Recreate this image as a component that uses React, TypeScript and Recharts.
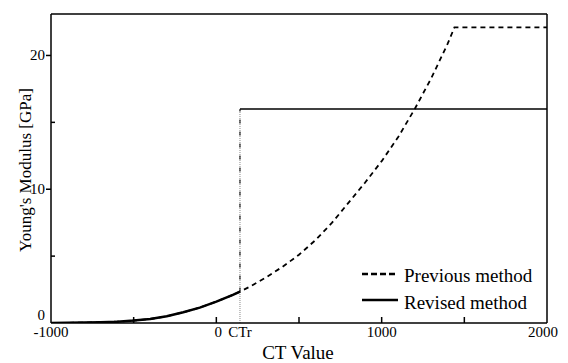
import React from 'react';
import {
  LineChart,
  Line,
  XAxis,
  YAxis,
  Legend,
  ReferenceLine,
} from 'recharts';

// CT value where the revised method switches over
const CT_R = 143;

const ctValues = [
  -1000, -900, -800, -700, -600, -500, -400, -300, -200, -100, 0, 100, CT_R, 200, 300, 400, 500,
  600, 700, 800, 900, 1000, 1100, 1200, 1300, 1400, 1440, 2000,
];
const previousValues = [
  0, 0.01, 0.03, 0.06, 0.1, 0.18, 0.3, 0.5, 0.8, 1.15, 1.6, 2.1, 2.35, 2.7, 3.4, 4.2, 5.1,
  6.2, 7.5, 9.0, 10.5, 12.1, 13.9, 16.0, 18.3, 20.9, 22.1, 22.1,
];
const revisedFlatValue = 16.0;

const xTicks = [-1000, -500, 0, CT_R, 500, 1000, 1500, 2000];
const xTickLabels: Record<number, string> = { [-1000]: '-1000', 0: '0', [CT_R]: 'CTr', 1000: '1000', 2000: '2000' };
const yTicks = [0, 5, 10, 15, 20];
const yTickLabels: Record<number, string> = { 0: '0', 10: '10', 20: '20' };

const previousData = ctValues.map((ct, i) => ({ ct, value: previousValues[i] }));
const revisedCurve = previousData.filter((p) => p.ct <= CT_R);
const revisedJump = [
  { ct: CT_R, value: revisedCurve[revisedCurve.length - 1].value },
  { ct: CT_R, value: revisedFlatValue },
];
const revisedFlat = [
  { ct: CT_R, value: revisedFlatValue },
  { ct: 2000, value: revisedFlatValue },
];

const txt = { fontFamily: 'Liberation Serif' };

const BottomTick = ({ x, y, payload }: any) => {
  const v = payload.value;
  const label = xTickLabels[v] ?? '';
  const showLine = v !== CT_R && v !== -1000 && v !== 2000;
  return (
    <g>
      {showLine && <line x1={x} y1={y} x2={x} y2={y - 6} stroke="#000" strokeWidth={1.5} />}
      <text
        x={x + (v === 0 ? 2 : v === 2000 ? -4 : 0)}
        y={y + 14}
        textAnchor="middle"
        fontSize={15}
        style={txt}
        fill="#000"
      >
        {label}
      </text>
    </g>
  );
};

const TopTick = ({ x, y, payload }: any) => {
  const v = payload.value;
  if (v === -1000 || v === 2000) return <g />;
  return <line x1={x} y1={y} x2={x} y2={y + 5} stroke="#000" strokeWidth={1.5} />;
};

const LeftTick = ({ x, y, payload }: any) => {
  const v = payload.value;
  const major = v % 10 === 0;
  return (
    <g>
      {major ? (
        v !== 0 && <line x1={x - 5} y1={y} x2={x} y2={y} stroke="#000" strokeWidth={1.5} />
      ) : (
        <line x1={x} y1={y} x2={x + 4} y2={y} stroke="#000" strokeWidth={1.5} />
      )}
      {major && (
        <text x={x - 6} y={y + (v === 0 ? -3 : 5)} textAnchor="end" fontSize={15} style={txt} fill="#000">
          {yTickLabels[v]}
        </text>
      )}
    </g>
  );
};

const RightTick = ({ x, y, payload }: any) => {
  const v = payload.value;
  if (v === 0) return <g />;
  const len = v % 10 === 0 ? 6 : 4;
  return <line x1={x - len} y1={y} x2={x} y2={y} stroke="#000" strokeWidth={1.5} />;
};

const renderLegend = () => (
  <svg width={190} height={50}>
    <line x1={2} y1={12} x2={38} y2={12} stroke="#000" strokeWidth={2.5} strokeDasharray="6 3" />
    <text x={44} y={20} fontSize={19} fill="#000" style={txt}>Previous method</text>
    <line x1={2} y1={38} x2={38} y2={38} stroke="#000" strokeWidth={2.5} />
    <text x={44} y={47} fontSize={19} fill="#000" style={txt}>Revised method</text>
  </svg>
);

export default function App() {
  return (
    <div style={{ position: 'absolute', left: 0, top: 0, background: '#fff' }}>
      <LineChart width={568} height={363} margin={{ top: 0, right: 0, left: 0, bottom: 0 }}>
        <XAxis
          xAxisId="bottom"
          type="number"
          dataKey="ct"
          domain={[-1000, 2000]}
          ticks={xTicks}
          interval={0}
          height={40}
          tickSize={0}
          tickMargin={0}
          tickLine={false}
          tick={BottomTick}
          axisLine={{ stroke: '#000', strokeWidth: 1.5 }}
          allowDataOverflow
        />
        <XAxis
          xAxisId="top"
          orientation="top"
          type="number"
          dataKey="ct"
          domain={[-1000, 2000]}
          ticks={[-1000, -500, 0, 500, 1000, 1500, 2000]}
          interval={0}
          height={14}
          tickSize={0}
          tickMargin={0}
          tickLine={false}
          tick={TopTick}
          axisLine={{ stroke: '#000', strokeWidth: 1.5 }}
        />
        <YAxis
          yAxisId="left"
          type="number"
          domain={[0, 23.1]}
          ticks={yTicks}
          interval={0}
          width={51}
          tickSize={0}
          tickMargin={0}
          tickLine={false}
          tick={LeftTick}
          axisLine={{ stroke: '#000', strokeWidth: 1.5 }}
          allowDataOverflow
        />
        <YAxis
          yAxisId="right"
          orientation="right"
          type="number"
          domain={[0, 23.1]}
          ticks={yTicks}
          interval={0}
          width={21}
          tickSize={0}
          tickMargin={0}
          tickLine={false}
          tick={RightTick}
          axisLine={{ stroke: '#000', strokeWidth: 1.5 }}
        />
        <ReferenceLine
          xAxisId="bottom"
          yAxisId="left"
          segment={[
            { x: CT_R, y: 0 },
            { x: CT_R, y: revisedFlatValue },
          ]}
          stroke="#888"
          strokeWidth={1}
          strokeDasharray="1 1"
        />
        <Line
          xAxisId="bottom"
          yAxisId="left"
          data={revisedJump}
          dataKey="value"
          stroke="#000"
          strokeWidth={1}
          strokeDasharray="4 8"
          dot={false}
          isAnimationActive={false}
          legendType="none"
        />
        <Line
          xAxisId="bottom"
          yAxisId="left"
          data={previousData}
          dataKey="value"
          name="Previous method"
          type="linear"
          stroke="#000"
          strokeWidth={1.8}
          strokeDasharray="5 4"
          dot={false}
          isAnimationActive={false}
        />
        <Line
          xAxisId="bottom"
          yAxisId="left"
          data={revisedCurve}
          dataKey="value"
          name="Revised method"
          type="linear"
          stroke="#000"
          strokeWidth={2.5}
          dot={false}
          isAnimationActive={false}
        />
        <Line
          xAxisId="bottom"
          yAxisId="left"
          data={revisedFlat}
          dataKey="value"
          type="linear"
          stroke="#000"
          strokeWidth={1.5}
          dot={false}
          isAnimationActive={false}
          legendType="none"
        />
        <Legend
          layout="horizontal"
          verticalAlign="middle"
          align="center"
          content={renderLegend}
          wrapperStyle={{ left: 360, top: 262, width: 190, height: 50 }}
        />
        <text x={298} y={359} textAnchor="middle" fontSize={19} style={txt} fill="#000">
          CT Value
        </text>
        <text
          x={31}
          y={170}
          textAnchor="middle"
          fontSize={17}
          style={txt}
          fill="#000"
          transform="rotate(-90 31 170)"
        >
          Young's Modulus [GPa]
        </text>
      </LineChart>
    </div>
  );
}
